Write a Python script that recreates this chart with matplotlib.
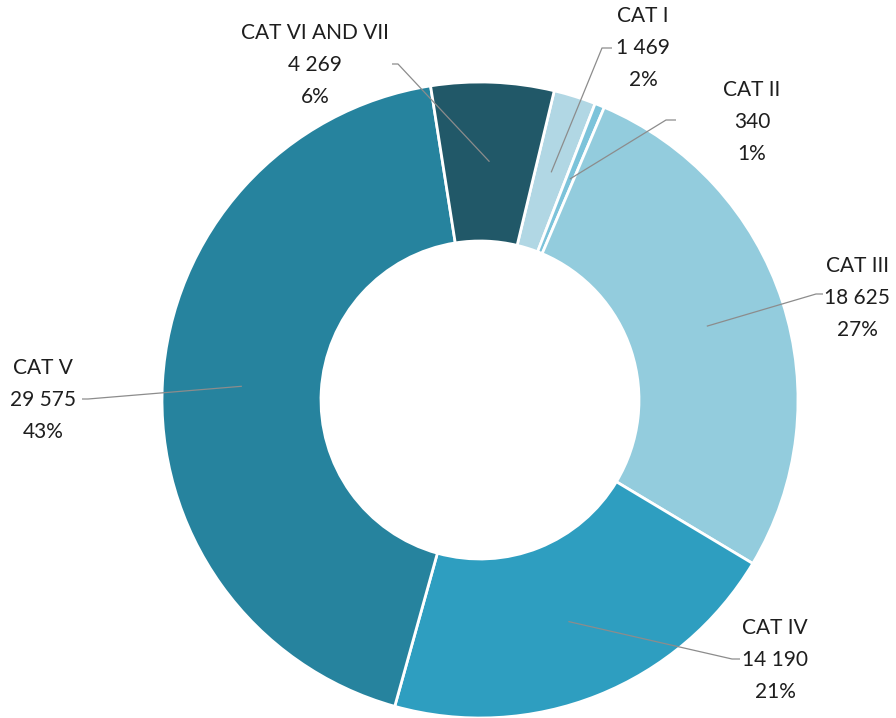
import numpy as np
import matplotlib
matplotlib.use("Agg")
import matplotlib.pyplot as plt

# data
categories = ["CAT I", "CAT II", "CAT III", "CAT IV", "CAT V", "CAT VI AND VII"]
values = [1469, 340, 18625, 14190, 29575, 4269]
pct_labels = ["2%", "1%", "27%", "21%", "43%", "6%"]
colors = ["#B1D7E4", "#7CC3DA", "#93CCDD", "#2E9EC0", "#26839E", "#215868"]

# label block centres and leader elbow/end points (pixel coords, y down)
label_pos = [(643, 48), (752, 122), (857, 298), (775, 660), (43, 400), (315, 65)]
elbows = [((602, 48), (612, 48)), ((666, 120), (676, 120)), ((816, 294), (823, 294)),
          ((732, 659), (740, 659)), ((88, 399), (82, 399)), ((398, 64), (392, 64))]

W, H = 896, 718
CX, CY, R = 480, 400, 318

fig = plt.figure(figsize=(W / 100, H / 100), dpi=100)
ax = fig.add_axes([0, 0, 1, 1])

start = 76.5
wedges, _ = ax.pie(values, colors=colors, startangle=start, counterclock=False,
                   center=(CX, H - CY), radius=R, frame=True,
                   wedgeprops=dict(width=R * 0.5, edgecolor="white", linewidth=2))
ax.set_xlim(0, W)
ax.set_ylim(0, H)
ax.set_aspect("equal")
ax.axis("off")

total = sum(values)
cum = 0
for i, v in enumerate(values):
    mid = start - (cum + v / 2) / total * 360
    cum += v
    px = CX + 0.75 * R * np.cos(np.radians(mid))
    py = CY - 0.75 * R * np.sin(np.radians(mid))
    (ex, ey), (fx, fy) = elbows[i]
    ax.plot([px, ex, fx], [H - py, H - ey, H - fy], color="#8C8C8C", lw=0.9,
            solid_capstyle="butt")
    txt = f"{categories[i]}\n{v:,}".replace(",", " ") + f"\n{pct_labels[i]}"
    lx, ly = label_pos[i]
    ax.text(lx, H - ly, txt, ha="center", va="center", multialignment="center",
            fontsize=15, family="Lato", color="#1E1E1E", linespacing=1.72)

fig.savefig("out.png", dpi=100)
